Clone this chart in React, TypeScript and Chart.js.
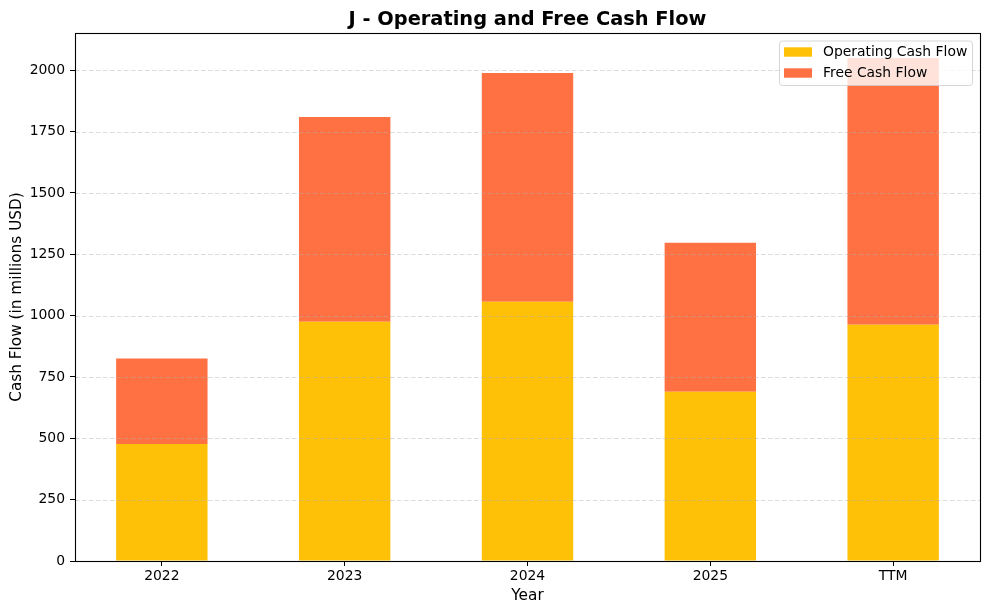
import React, { useEffect, useRef } from "react";
import { Chart, registerables } from "chart.js";

Chart.register(...registerables);

const categories = ["2022", "2023", "2024", "2025", "TTM"];
const operatingCashFlow = [477, 975, 1057, 690, 963];
const freeCashFlow = [348, 835, 932, 607, 1087];
const yTicks = [0, 250, 500, 750, 1000, 1250, 1500, 1750, 2000];

const seriesNames = ["Operating Cash Flow", "Free Cash Flow"];
const seriesColors = ["#FFC107", "#FF7043"];

const FONT = "'DejaVu Sans', sans-serif";
const TICK_SIZE = 13.9;
const LABEL_SIZE = 15.3;

const decorPlugin = {
  id: "decor",
  afterDatasetsDraw(chart: any) {
    const { ctx, chartArea: a, scales } = chart;
    const y = scales.y;
    ctx.save();
    ctx.beginPath();
    ctx.rect(a.left, a.top, a.right - a.left, a.bottom - a.top);
    ctx.clip();
    ctx.strokeStyle = "rgba(176,176,176,0.45)";
    ctx.lineWidth = 1;
    ctx.setLineDash([4.5, 2.5]);
    for (const t of yTicks) {
      const py = Math.round(y.getPixelForValue(t)) + 0.5;
      ctx.beginPath();
      ctx.moveTo(a.left, py);
      ctx.lineTo(a.right, py);
      ctx.stroke();
    }
    ctx.restore();
  },
  afterDraw(chart: any) {
    const { ctx, chartArea: a } = chart;
    ctx.save();
    // frame
    ctx.strokeStyle = "#000";
    ctx.lineWidth = 1.1;
    ctx.setLineDash([]);
    ctx.strokeRect(a.left + 0.5, a.top + 0.5, a.right - a.left, a.bottom - a.top);

    // title
    ctx.fillStyle = "#000";
    ctx.textAlign = "center";
    ctx.textBaseline = "alphabetic";
    ctx.font = `bold 19.4px ${FONT}`;
    ctx.fillText("J - Operating and Free Cash Flow", (a.left + a.right) / 2, 25);

    // axis labels
    ctx.font = `${LABEL_SIZE}px ${FONT}`;
    ctx.textBaseline = "middle";
    ctx.fillText("Year", (a.left + a.right) / 2, 596);
    ctx.save();
    ctx.translate(17, (a.top + a.bottom) / 2);
    ctx.rotate(-Math.PI / 2);
    ctx.fillText("Cash Flow (in millions USD)", 0, 0);
    ctx.restore();

    // legend
    const lx = 779.5, ly = 41, lw = 193, lh = 44.5;
    ctx.beginPath();
    (ctx as any).roundRect(lx, ly, lw, lh, 3);
    ctx.fillStyle = "rgba(255,255,255,0.8)";
    ctx.fill();
    ctx.strokeStyle = "rgba(204,204,204,0.8)";
    ctx.lineWidth = 1;
    ctx.stroke();
    const rows = [52, 73];
    seriesNames.forEach((name, i) => {
      ctx.fillStyle = seriesColors[i];
      ctx.fillRect(784, rows[i] - 4.7, 28, 9.4);
      ctx.fillStyle = "#000";
      ctx.textAlign = "left";
      ctx.textBaseline = "middle";
      ctx.font = `${TICK_SIZE}px ${FONT}`;
      ctx.fillText(name, 823, rows[i]);
    });
    ctx.restore();
  },
};

export default function App() {
  const ref = useRef<HTMLCanvasElement>(null);

  useEffect(() => {
    if (!ref.current) return;
    const datasets = [operatingCashFlow, freeCashFlow].map((vals, s) => ({
      label: seriesNames[s],
      data: vals.map((v, i) => ({ x: i, y: v })),
      backgroundColor: seriesColors[s],
      borderWidth: 0,
      barPercentage: 0.5,
      categoryPercentage: 1,
    }));
    const chart = new Chart(ref.current, {
      type: "bar",
      data: { datasets },
      options: {
        animation: false,
        responsive: true,
        maintainAspectRatio: false,
        layout: { padding: { top: 33, right: 9, left: 0, bottom: 0 } },
        plugins: {
          legend: { display: false },
          title: { display: false },
          tooltip: { enabled: false },
        },
        scales: {
          x: {
            type: "linear",
            stacked: true,
            min: -0.475,
            max: 4.475,
            offset: false,
            afterFit: (s: any) => {
              s.height = 54;
            },
            afterBuildTicks: (s: any) => {
              s.ticks = categories.map((_, i) => ({ value: i }));
            },
            border: { display: false },
            grid: {
              offset: false,
              drawOnChartArea: false,
              drawTicks: true,
              tickLength: 5,
              tickColor: "#000",
              tickWidth: 1,
            },
            ticks: {
              padding: 2,
              color: "#000",
              font: { family: FONT, size: TICK_SIZE },
              callback: (v: any) => categories[v] ?? "",
              maxRotation: 0,
              autoSkip: false,
            },
          },
          y: {
            type: "linear",
            stacked: true,
            min: 0,
            max: 2152,
            afterFit: (s: any) => {
              s.width = 75;
            },
            afterBuildTicks: (s: any) => {
              s.ticks = yTicks.map((v) => ({ value: v }));
            },
            border: { display: false },
            grid: {
              offset: false,
              drawOnChartArea: false,
              drawTicks: true,
              tickLength: 5,
              tickColor: "#000",
              tickWidth: 1,
            },
            ticks: {
              padding: 5,
              color: "#000",
              font: { family: FONT, size: TICK_SIZE },
              callback: (v: any) => String(v),
              autoSkip: false,
            },
          },
        },
      },
      plugins: [decorPlugin],
    });
    return () => chart.destroy();
  }, []);

  return (
    <div style={{ position: "fixed", left: 0, top: 0, width: 989, height: 615, background: "#fff" }}>
      <canvas ref={ref} />
    </div>
  );
}
